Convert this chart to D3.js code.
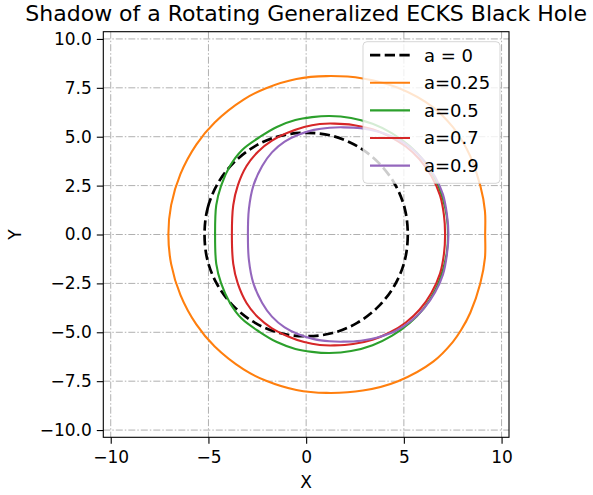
<!DOCTYPE html>
<html>
<head>
<meta charset="utf-8">
<script src="https://cdn.jsdelivr.net/npm/d3@7"></script>
<style>
  body { margin: 0; background: #fff; }
  text { font-family: "DejaVu Sans", sans-serif; fill: #000; }
</style>
</head>
<body>
<div id="vis"></div>
<script>
// data (x, y pairs going round each shadow)
var seriesLabels = ["a = 0", "a=0.25", "a=0.5", "a=0.7", "a=0.9"];

var shadowA0 = [
  [-5.2, 0], [-5.04, 1.35], [-4.52, 2.61], [-3.69, 3.69], [-2.61, 4.52], [-1.35, 5.04], [0, 5.2],
  [1.35, 5.04], [2.61, 4.52], [3.69, 3.69], [4.52, 2.61], [5.04, 1.35], [5.2, 0],
  [5.04, -1.35], [4.52, -2.61], [3.69, -3.69], [2.61, -4.52], [1.35, -5.04], [0, -5.2],
  [-1.35, -5.04], [-2.61, -4.52], [-3.69, -3.69], [-4.52, -2.61], [-5.04, -1.35]
];
var shadowA025 = [
  [-7.05, 0], [-6.91, 1.5], [-6.43, 3.1], [-5.62, 4.6], [-4.68, 5.73], [-3.2, 6.9], [-2.05, 7.48],
  [-0.5, 7.95], [1.05, 8.1], [2.9, 7.98], [4.7, 7.5], [6.5, 6.5], [7.5, 5.5], [7.92, 4.9],
  [8.4, 4.0], [8.91, 2.5], [9.15, 1.2], [9.16, 0], [9.15, -1.2], [8.91, -2.5], [8.4, -4.0],
  [7.92, -4.9], [7.5, -5.5], [6.5, -6.5], [4.7, -7.5], [2.9, -7.98], [1.05, -8.1], [-0.5, -7.95],
  [-2.05, -7.48], [-3.2, -6.9], [-4.68, -5.73], [-5.62, -4.6], [-6.43, -3.1], [-6.91, -1.5]
];
var shadowA05 = [
  [-4.66, 0], [-4.6, 1.5], [-4.35, 2.5], [-3.9, 3.5], [-3.3, 4.3], [-2.35, 5.0], [-1.5, 5.5],
  [-0.55, 5.85], [0.3, 6.0], [1.2, 6.06], [2.3, 5.96], [3.4, 5.66], [4.4, 5.17], [5.3, 4.52],
  [6.0, 3.8], [6.6, 2.85], [7.0, 1.8], [7.2, 0.9], [7.26, 0], [7.2, -0.9], [7.0, -1.8],
  [6.6, -2.85], [6.0, -3.8], [5.3, -4.52], [4.4, -5.17], [3.4, -5.66], [2.3, -5.96], [1.2, -6.06],
  [0.3, -6.0], [-0.55, -5.85], [-1.5, -5.5], [-2.35, -5.0], [-3.3, -4.3], [-3.9, -3.5],
  [-4.35, -2.5], [-4.6, -1.5]
];
var shadowA07 = [
  [-3.8, 0], [-3.73, 1.5], [-3.5, 2.5], [-3.05, 3.5], [-2.45, 4.25], [-1.75, 4.8], [-0.95, 5.2],
  [-0.1, 5.5], [0.7, 5.65], [1.45, 5.67], [2.4, 5.6], [3.4, 5.38], [4.3, 5.0], [5.1, 4.5],
  [5.8, 3.85], [6.4, 3.0], [6.85, 2.0], [7.05, 1.0], [7.11, 0], [7.05, -1.0], [6.85, -2.0],
  [6.4, -3.0], [5.8, -3.85], [5.1, -4.5], [4.3, -5.0], [3.4, -5.38], [2.4, -5.6], [1.45, -5.67],
  [0.7, -5.65], [-0.1, -5.5], [-0.95, -5.2], [-1.75, -4.8], [-2.45, -4.25], [-3.05, -3.5],
  [-3.5, -2.5], [-3.73, -1.5]
];
var shadowA09 = [
  [-2.98, 0], [-2.93, 1.3], [-2.7, 2.5], [-2.25, 3.5], [-1.75, 4.2], [-1.1, 4.75], [-0.4, 5.1],
  [0.4, 5.35], [1.2, 5.46], [1.9, 5.48], [2.8, 5.43], [3.7, 5.25], [4.6, 4.92], [5.4, 4.4],
  [6.05, 3.75], [6.6, 2.95], [7.0, 2.05], [7.2, 1.05], [7.28, 0], [7.2, -1.05], [7.0, -2.05],
  [6.6, -2.95], [6.05, -3.75], [5.4, -4.4], [4.6, -4.92], [3.7, -5.25], [2.8, -5.43], [1.9, -5.48],
  [1.2, -5.46], [0.4, -5.35], [-0.4, -5.1], [-1.1, -4.75], [-1.75, -4.2], [-2.25, -3.5],
  [-2.7, -2.5], [-2.93, -1.3]
];
var xTicks = [-10, -5, 0, 5, 10];
var yTicks = [-10, -7.5, -5, -2.5, 0, 2.5, 5, 7.5, 10];

// styles
var COLORS = ["#000000", "#ff7f0e", "#2ca02c", "#d62728", "#9467bd"];
var shadows = [shadowA0, shadowA025, shadowA05, shadowA07, shadowA09];

var width = 593, height = 495;
var axLeft = 103.3, axRight = 509, axTop = 31.7, axBottom = 437.3;

var svg = d3.select("#vis").append("svg")
  .attr("width", width).attr("height", height);

var x = d3.scaleLinear().domain([-10.38, 10.38]).range([axLeft, axRight]);
var y = d3.scaleLinear().domain([-10.37, 10.37]).range([axBottom, axTop]);

svg.append("clipPath").attr("id", "clip")
  .append("rect").attr("x", axLeft).attr("y", axTop)
  .attr("width", axRight - axLeft).attr("height", axBottom - axTop);

// grid
var grid = svg.append("g").attr("stroke", "#b0b0b0").attr("stroke-width", 1)
  .attr("stroke-dasharray", "7,2,1.5,2");
grid.selectAll(".gx").data(xTicks).enter().append("line")
  .attr("x1", function (d) { return x(d); }).attr("x2", function (d) { return x(d); })
  .attr("y1", axTop).attr("y2", axBottom);
grid.selectAll(".gy").data(yTicks).enter().append("line")
  .attr("y1", function (d) { return y(d); }).attr("y2", function (d) { return y(d); })
  .attr("x1", axLeft).attr("x2", axRight);

// curves
var line = d3.line()
  .x(function (d) { return x(d[0]); })
  .y(function (d) { return y(d[1]); })
  .curve(d3.curveCatmullRomClosed.alpha(0.5));

var plot = svg.append("g").attr("clip-path", "url(#clip)");
shadows.forEach(function (pts, i) {
  plot.append("path")
    .attr("d", line(pts))
    .attr("fill", "none")
    .attr("stroke", COLORS[i])
    .attr("stroke-width", i == 0 ? 2.7 : 2.1)
    .attr("stroke-dasharray", i == 0 ? "10.3,4.4" : null);
});

// axes
function fmtY(d) { return d3.format(".1f")(d).replace("-", "\u2212"); }
function fmtX(d) { return String(d).replace("-", "\u2212"); }

var xAxis = svg.append("g")
  .attr("transform", "translate(0," + axBottom + ")")
  .call(d3.axisBottom(x).tickValues(xTicks).tickFormat(fmtX).tickSize(6.5).tickPadding(7.5));
var yAxis = svg.append("g")
  .attr("transform", "translate(" + axLeft + ",0)")
  .call(d3.axisLeft(y).tickValues(yTicks).tickFormat(fmtY).tickSize(6.5).tickPadding(5));

[xAxis, yAxis].forEach(function (a) {
  a.select(".domain").remove();
  a.selectAll(".tick line").attr("stroke", "#000").attr("stroke-width", 1.1);
  a.selectAll(".tick text").attr("font-size", 17).attr("font-family", "DejaVu Sans").attr("fill", "#000");
});

// spines
svg.append("rect")
  .attr("x", axLeft).attr("y", axTop)
  .attr("width", axRight - axLeft).attr("height", axBottom - axTop)
  .attr("fill", "none").attr("stroke", "#000").attr("stroke-width", 1.1);

// labels
svg.append("text").attr("x", (axLeft + axRight) / 2).attr("y", 488)
  .attr("text-anchor", "middle").attr("font-size", 17).text("X");
svg.append("text")
  .attr("transform", "translate(21," + ((axTop + axBottom) / 2) + ") rotate(-90)")
  .attr("text-anchor", "middle").attr("font-size", 17).text("Y");
svg.append("text").attr("x", (axLeft + axRight) / 2).attr("y", 21)
  .attr("text-anchor", "middle").attr("font-size", 22)
  .text("Shadow of a Rotating Generalized ECKS Black Hole");

// legend
var lg = svg.append("g").attr("transform", "translate(363,41.7)");
lg.append("rect").attr("width", 137).attr("height", 141.6).attr("rx", 4)
  .attr("fill", "#fff").attr("fill-opacity", 0.8)
  .attr("stroke", "#cccccc").attr("stroke-opacity", 0.8).attr("stroke-width", 1);
seriesLabels.forEach(function (lab, i) {
  var cy = 13.5 + i * 27.6;
  lg.append("line").attr("x1", 7).attr("x2", 47).attr("y1", cy).attr("y2", cy)
    .attr("stroke", COLORS[i])
    .attr("stroke-width", i == 0 ? 2.7 : 2.1)
    .attr("stroke-dasharray", i == 0 ? "10.3,4.4" : null);
  lg.append("text").attr("x", 61).attr("y", cy + 6.5)
    .attr("font-size", 18).text(lab);
});
</script>
</body>
</html>
